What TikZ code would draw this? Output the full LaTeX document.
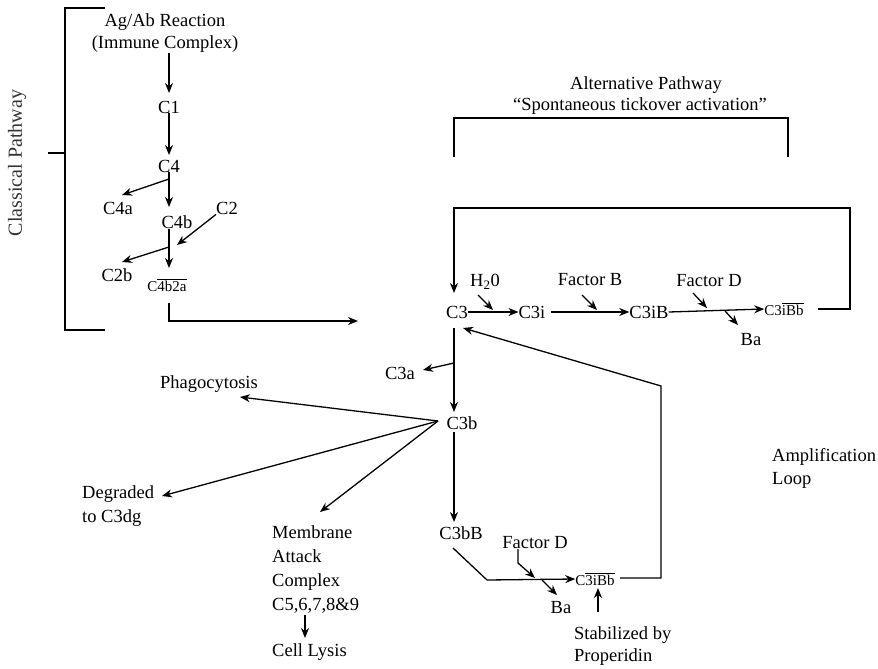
\documentclass[tikz,border=0pt]{standalone}
\usepackage{fontspec}
\setmainfont{Liberation Serif}
\usetikzlibrary{arrows.meta,calc}
\begin{document}
\begin{tikzpicture}[x=1pt,y=-1pt,
  lbl/.style={inner sep=0pt, font=\fontsize{18.5}{24}\selectfont},
  sml/.style={inner sep=0pt, font=\fontsize{15}{18}\selectfont},
  arr/.style={line width=1.3pt, -{Stealth[length=10pt,width=8pt]}},
  ln/.style={line width=1.3pt},
  brk/.style={line width=1.2pt}]
\fill[white] (0,0) rectangle (878,669);
\useasboundingbox (0,0) rectangle (878,669);

% ---------- Classical pathway ----------
\node[lbl, rotate=90, font=\fontsize{20}{24}\selectfont, text=black!80] (classical) at (17,163) {Classical Pathway};
\draw[brk] (105,8) -- (65,8) -- (65,330) -- (105,330);
\coordinate (ctick) at (65,153);
\draw[brk] (ctick) -- ++(-17,0);

\node[lbl] (agab) at (165,22) {Ag/Ab Reaction};
\node[lbl] (immune) at (165,44) {(Immune Complex)};
\node[lbl] (c1) at (169,107) {C1};
\node[lbl] (c4) at (169,166) {C4};
\node[lbl] (c4a) at (118,208) {C4a};
\node[lbl] (c4b) at (177,222) {C4b};
\node[lbl] (c2) at (227,208) {C2};
\node[lbl] (c2b) at (117,275) {C2b};
\node[sml] (c4b2a) at (167,285) {C$\overline{\hbox{4b2a}}$};

\coordinate (t1) at (169,93);
\coordinate (t2) at (169,155);
\coordinate (j4) at (169,179);
\coordinate (t3) at (169,207);
\coordinate (t4a) at (122,195);
\coordinate (j5) at (169,247);
\coordinate (t5) at (169,268);
\coordinate (t2b) at (122,262);
\coordinate (tc2) at (177,245);
\coordinate (k0) at (169,303);
\coordinate (k1) at (169,321);
\coordinate (k2) at (358,321);

\draw[arr] (immune.south -| t1) -- (t1);
\draw[arr] (c1.south) -- (t2);
\draw[arr] (c4.south) -- (t3);
\draw[arr] (j4) -- (t4a);
\draw[arr] (c4b.south -| t5) -- (t5);
\draw[arr] (j5) -- (t2b);
\draw[arr] (c2.south west) -- (tc2);
\draw[arr] (k0) -- (k1) -- (k2);

% ---------- Alternative pathway ----------
\node[lbl] (alt) at (646,85) {Alternative Pathway};
\node[lbl] (spont) at (640,106) {“Spontaneous tickover activation”};
\draw[brk] (454,157) -- (454,118) -- (788,118) -- (788,157);

\node[lbl] (c3) at (457,312) {C3};
\node[lbl] (h2o) at (485,282) {H\textsubscript{2}0};
\node[lbl] (c3i) at (532,312) {C3i};
\node[lbl] (fb) at (590,280) {Factor B};
\node[lbl] (c3ib) at (649,312) {C3iB};
\node[lbl] (fd1) at (709,281) {Factor D};
\node[sml] (c3ibb) at (784,309) {C3$\overline{\hbox{iBb}}$};
\node[lbl] (ba1) at (751,340) {Ba};

\coordinate (h2oa) at (478,295);
\coordinate (h2ob) at (493,310);
\coordinate (fba) at (582,295);
\coordinate (fbb) at (597,310);
\coordinate (fda) at (693,293);
\coordinate (fdb) at (707,308);
\coordinate (baa) at (725,311);
\coordinate (bab) at (738,325);
\coordinate (l1) at (818,309);
\coordinate (l2) at (850,309);
\coordinate (l3) at (850,208);
\coordinate (l4) at (454,208);
\coordinate (l5) at (454,293);

\draw[arr] (c3.east) -- (c3i.west);
\draw[arr] ($(c3i.east)+(5,0)$) -- (c3ib.west);
\draw[arr] (c3ib.east) -- (c3ibb.west);
\draw[arr] (h2oa) -- (h2ob);
\draw[arr] (fba) -- (fbb);
\draw[arr] (fda) -- (fdb);
\draw[arr] (baa) -- (bab);
\draw[arr] (l1) -- (l2) -- (l3) -- (l4) -- (l5);

% ---------- C3 breakdown ----------
\node[lbl] (c3a) at (400,373) {C3a};
\node[lbl] (c3b) at (462,423) {C3b};
\node[lbl] (c3bb) at (461,533) {C3bB};
\node[lbl] (phago) at (209,384) {Phagocytosis};
\node[lbl, align=left, anchor=west] (deg) at (82,506) {Degraded\\to C3dg};
\node[lbl, align=left, anchor=west] (mac) at (272,569) {Membrane\\Attack\\Complex\\C5,6,7,8\&9};
\node[lbl, anchor=west] (lysis) at (272,652) {Cell Lysis};

\coordinate (v0) at (454,328);
\coordinate (v1) at (454,412);
\coordinate (j3a) at (454,363);
\coordinate (t3a) at (423,370);
\coordinate (jb) at (438,421);
\coordinate (tph) at (240,397);
\coordinate (tdg) at (162,496);
\coordinate (tmac) at (320,512);
\coordinate (v2) at (454,432);
\coordinate (v3) at (454,522);
\coordinate (lya) at (305,615);
\coordinate (lyb) at (305,638);

\draw[arr] (v0) -- (v1);
\draw[arr] (j3a) -- (t3a);
\draw[arr] (jb) -- (tph);
\draw[arr] (jb) -- (tdg);
\draw[arr] (jb) -- (tmac);
\draw[arr] (v2) -- (v3);
\draw[arr] (lya) -- (lyb);

% ---------- Amplification loop ----------
\node[sml] (c3ibb2) at (595,579) {C$\overline{\hbox{3iBb}}$};
\node[lbl] (fd2) at (535,543) {Factor D};
\node[lbl] (ba2) at (561,608) {Ba};
\node[lbl, align=left, anchor=west, font=\fontsize{18.5}{22}\selectfont] (stab) at (574,646) {Stabilized by\\Properidin};
\node[lbl, align=left, anchor=west, font=\fontsize{18.5}{23}\selectfont] (amp) at (772,468) {Amplification\\Loop};

\coordinate (p1) at (453,548);
\coordinate (p2) at (487,580);
\coordinate (fd2a) at (518,549);
\coordinate (fd2b) at (518,563);
\coordinate (fd2c) at (535,578);
\coordinate (ba2a) at (542,580);
\coordinate (ba2b) at (557,595);
\coordinate (sta) at (598,612);
\coordinate (stb) at (598,588);
\coordinate (r1) at (620,578);
\coordinate (r2) at (661,578);
\coordinate (r3) at (661,386);
\coordinate (r4) at (463,328);

\draw[arr] (p1) -- (p2) -- (c3ibb2.west);
\draw[arr] (fd2a) -- (fd2b) -- (fd2c);
\draw[arr] (ba2a) -- (ba2b);
\draw[arr] (sta) -- (stb);
\draw[arr] (r1) -- (r2) -- (r3) -- (r4);
\end{tikzpicture}
\end{document}
